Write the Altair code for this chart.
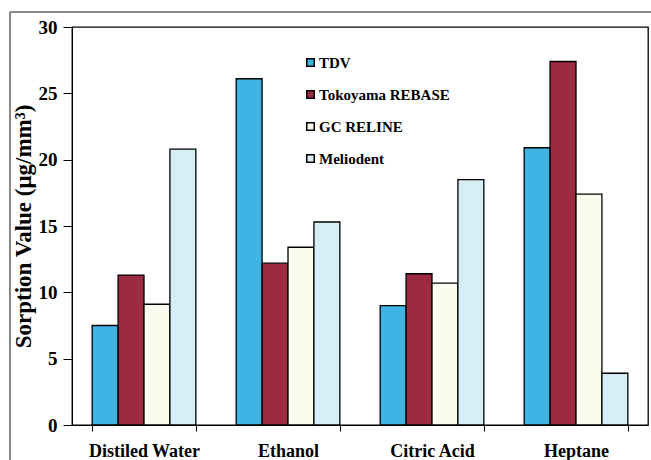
import altair as alt
import pandas as pd

categories = ["Distiled Water", "Ethanol", "Citric Acid", "Heptane"]
series = ["TDV", "Tokoyama REBASE", "GC RELINE", "Meliodent"]
tdv = [7.5, 26.1, 9.0, 20.9]
tokoyama = [11.3, 12.2, 11.4, 27.4]
gc_reline = [9.1, 13.4, 10.7, 17.4]
meliodent = [20.8, 15.3, 18.5, 3.9]
colors = ["#3fb4e4", "#9c2b42", "#fcfcee", "#d8eef7"]
y_ticks = [0, 5, 10, 15, 20, 25, 30]

rows = []
for s, vals in zip(series, [tdv, tokoyama, gc_reline, meliodent]):
    for c, v in zip(categories, vals):
        rows.append({"category": c, "series": s, "value": v})
df = pd.DataFrame(rows)

FONT = "Times New Roman, Liberation Serif, serif"

bars = alt.Chart(df).mark_bar(stroke="black", strokeWidth=1.3).encode(
    x=alt.X("category:N", sort=categories,
            scale=alt.Scale(paddingInner=0.28, paddingOuter=0.14),
            axis=alt.Axis(title=None, labelAngle=0, tickBand="extent",
                          labelFont=FONT, labelFontSize=18, labelFontWeight="bold",
                          labelColor="black", labelPadding=11, tickSize=6,
                          tickColor="black", domainColor="black")),
    xOffset=alt.XOffset("series:N", sort=series),
    y=alt.Y("value:Q", scale=alt.Scale(domain=[0, 30], nice=False),
            axis=alt.Axis(title="Sorption Value (μg/mm³)", values=y_ticks, grid=False,
                          titleFont=FONT, titleFontSize=23, titleFontWeight="bold",
                          titleColor="black", titlePadding=3,
                          labelFont=FONT, labelFontSize=19, labelFontWeight="bold",
                          labelColor="black", labelPadding=6, tickSize=9,
                          tickColor="black", domainColor="black")),
    color=alt.Color("series:N", sort=series,
                    scale=alt.Scale(domain=series, range=colors),
                    legend=alt.Legend(title=None, orient="none", legendX=231, legendY=28,
                                      symbolType="square", symbolSize=56,
                                      symbolStrokeColor="black", symbolStrokeWidth=1.5,
                                      labelFont=FONT, labelFontSize=15,
                                      labelFontWeight="bold", labelColor="black",
                                      rowPadding=16, labelOffset=1)),
)

frame_top = alt.Chart(df).mark_rule(color="#888888", strokeWidth=1.5).encode(
    x=alt.value(-62), x2=alt.value(700), y=alt.value(-15))
frame_left = alt.Chart(df).mark_rule(color="#888888", strokeWidth=1.5).encode(
    x=alt.value(-62), y=alt.value(-15), y2=alt.value(500))

chart = alt.layer(frame_top, frame_left, bars).properties(
    width=576, height=398,
    autosize=alt.AutoSizeParams(type="none"),
    padding={"left": 72, "top": 27, "right": 3, "bottom": 35},
).configure_view(stroke="black", strokeWidth=1.3)

chart.save("out.html", embed_options={"renderer": "svg", "actions": False})
